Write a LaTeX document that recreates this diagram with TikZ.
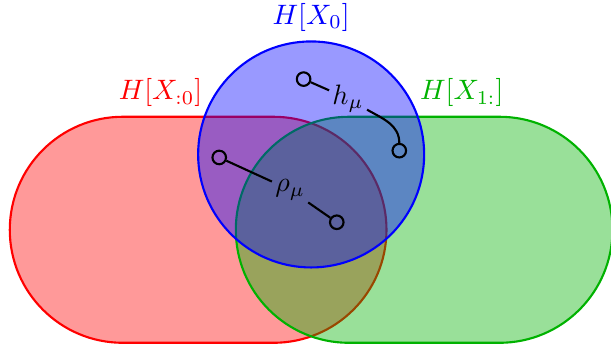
\documentclass[tikz,border=0pt]{standalone}
\usepackage{amsmath,amssymb}
\usepackage{tikz}
\usetikzlibrary{calc}
\definecolor{mygreen}{RGB}{0,178,0}
\tikzset{
  endpt/.style={circle,draw,thick,inner sep=0pt,minimum size=0.18cm},
  region/.style={thick,fill opacity=0.4},
  lbl/.style={scale=1.06},
  qty/.style={scale=1.06,inner sep=1pt}
}

\begin{document}
\begin{tikzpicture}
\useasboundingbox (-4.13,-1.51) rectangle (3.98,3.05);

% past
\draw[region,red,fill=red] (-2.5,-1.5) -- (-0.5,-1.5) arc (-90:90:1.5)
  -- (-2.5,1.5) arc (90:270:1.5) -- cycle;
% future
\draw[region,mygreen,fill=mygreen] (0.5,-1.5) -- (2.5,-1.5) arc (-90:90:1.5)
  -- (0.5,1.5) arc (90:270:1.5) -- cycle;
% present
\draw[region,blue,fill=blue] (0,1) circle (1.5);

% labels
\node[lbl,red,above] (pastlbl) at (-2,1.5) {\(H[X_{:0}]\)};
\node[lbl,mygreen,above] (futlbl) at (2,1.5) {\(H[X_{1:}]\)};
\node[lbl,blue,above] (preslbl) at (0,2.5) {\(H[X_0]\)};

% entropy rate
\node[endpt] (hA) at (-0.1,2.0) {};
\node[endpt] (hB) at (1.17,1.05) {};
\node[qty] (hlbl) at (0.49,1.74) {\(h_\mu\)};
\draw[thick] (hA) -- (hlbl);
\draw[thick] (hlbl) to[out=-30,in=90] (hB);

% crypticity
\node[endpt] (rA) at (-1.22,0.96) {};
\node[endpt] (rB) at (0.34,0.1) {};
\node[qty] (rlbl) at (-0.28,0.53) {\(\rho_\mu\)};
\draw[thick] (rA) -- (rlbl) -- (rB);

\end{tikzpicture}
\end{document}
